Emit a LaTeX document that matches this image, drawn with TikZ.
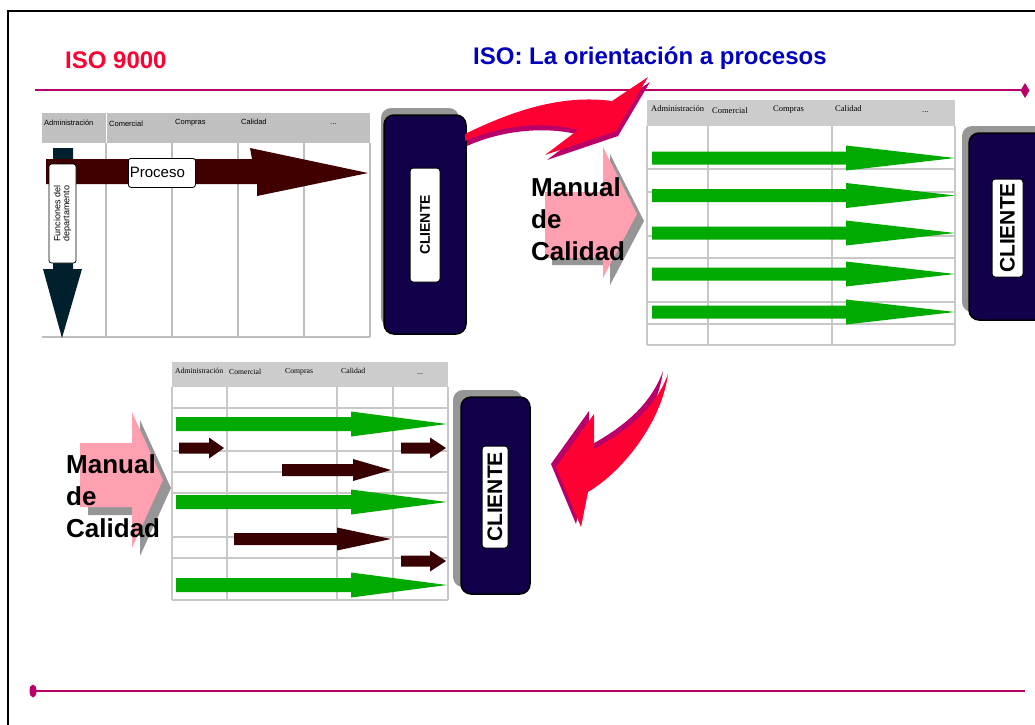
\documentclass[tikz,border=0pt]{standalone}
\usepackage{fontspec}
\setmainfont{Liberation Sans}
\newfontfamily\tms{Liberation Serif}
\definecolor{isored}{RGB}{255,0,51}
\definecolor{isoblue}{RGB}{0,0,190}
\definecolor{magline}{RGB}{185,0,105}
\definecolor{navybox}{RGB}{18,0,75}
\definecolor{maroonar}{RGB}{64,0,0}
\definecolor{darkmar}{RGB}{56,0,0}
\definecolor{vnavy}{RGB}{0,32,48}
\definecolor{garrow}{RGB}{0,170,0}
\definecolor{pinkar}{RGB}{255,160,176}
\definecolor{shadowg}{RGB}{150,150,150}
\definecolor{hdrA}{RGB}{192,192,192}
\definecolor{hdrB}{RGB}{204,204,204}
\definecolor{gridc}{RGB}{200,200,200}
% block arrow: colour, x start, x head base, x tip, y centre, shaft half height, head half height
\newcommand\blockar[7]{%
  \fill[#1] (#2,#5-#6) -- (#3,#5-#6) -- (#3,#5-#7) -- (#4,#5) -- (#3,#5+#7) -- (#3,#5+#6) -- (#2,#5+#6) -- cycle;}
\begin{document}
\begin{tikzpicture}[x=1pt,y=-1pt,
  hdrtxtA/.style={anchor=base west, inner sep=0pt, font=\fontsize{7.5}{9}\selectfont},
  hdrtxtB/.style={anchor=base west, inner sep=0pt, font=\tms\fontsize{8.5}{10}\selectfont},
  hdrtxtC/.style={anchor=base west, inner sep=0pt, font=\tms\fontsize{7.7}{9}\selectfont},
  gridline/.style={draw=gridc, line width=1.2pt},
  gridlineA/.style={draw=gridc!95!black, line width=1.5pt},
  shadowbox/.style={fill=shadowg, rounded corners=10pt},
  clibox/.style={fill=navybox, draw=black, line width=1.5pt, rounded corners=10pt},
  clilabel/.style={fill=white, draw=black, line width=1pt, rounded corners=3pt, rotate=90, inner sep=0pt},
  titletxt/.style={anchor=base west, inner sep=0pt, font=\bfseries\fontsize{24}{28}\selectfont},
  manualtxt/.style={anchor=north west, inner sep=0pt, align=left, font=\bfseries\fontsize{26}{32}\selectfont},
  whitebox/.style={fill=white, draw=black, line width=0.8pt, rounded corners=2.5pt},
  redswoosh/.style={fill=isored},
  sideswoosh/.style={fill=magline}
]
\useasboundingbox (0,0) rectangle (1035,724);
\clip (0,0) rectangle (1035,724);

% frame
\draw[line width=1.5pt] (8,730) -- (8,11) -- (1040,11);

% titles
\node[titletxt, text=isored] (t1) at (65,68) {ISO 9000};
\node[titletxt, text=isoblue] (t2) at (473,64) {ISO: La orientación a procesos};

% rules
\draw[magline, line width=2.5pt] (35,90) -- (1021,90);
\fill[magline] (1025,83) -- (1029.5,90.5) -- (1025,98) -- (1020.5,90.5) -- cycle;
\draw[magline, line width=2pt] (33,691) -- (1025,691);
\fill[magline] (33,691) ellipse [x radius=3.5pt, y radius=6.5pt];

% ---------- table 1 ----------
\fill[hdrA] (42,113) rectangle (370,143);
\draw[white, line width=0.8pt] (106,113) -- (106,143);
\foreach \x in {106,172,238,304,370} \draw[gridlineA] (\x,143) -- (\x,337);
\draw[gridlineA] (42,337) -- (370,337);
\node[hdrtxtA] (a1) at (44,125) {Administración};
\node[hdrtxtA] (a2) at (109,126) {Comercial};
\node[hdrtxtA] (a3) at (175,124) {Compras};
\node[hdrtxtA] (a4) at (241,124) {Calidad};
\node[hdrtxtA] (a5) at (330,124) {...};

\fill[vnavy] (53,148) -- (73,148) -- (73,269) -- (82,269) -- (62,338) -- (43,269) -- (53,269) -- cycle;
\fill[maroonar] (46,159) -- (252,159) -- (250,148) -- (368,173) -- (257,196) -- (257,184) -- (46,184) -- cycle;
\node[whitebox, minimum width=67pt, minimum height=29pt, text width=64pt, inner xsep=1.5pt, align=left,
      anchor=north west, font=\fontsize{15}{17}\selectfont] (proc) at (128,158) {Proceso};
\node[whitebox, rotate=90, minimum width=99pt, minimum height=27pt, inner sep=0pt, align=center,
      font=\fontsize{9}{9}\selectfont] (func) at (62.5,213.5) {Funciones del\\departamento};

% cliente 1
\fill[shadowbox] (381,108) rectangle (459,327);
\draw[clibox] (384,115) rectangle (466,334);
\node[clilabel, minimum width=114pt, minimum height=30pt, font=\bfseries\fontsize{14}{16}\selectfont] (c1) at (425,225) {CLIENTE};

% ---------- curved arrow 1 ----------
\fill[sideswoosh, shift={(2pt,-5pt)}] (465,134) .. controls (510,112) and (560,94) .. (612,101) -- (648,77) -- (616,131) -- (545,155) -- (578,130) .. controls (545,121) and (500,125) .. (465,141) -- cycle;
\fill[redswoosh] (465,134) .. controls (510,112) and (560,94) .. (612,101) -- (648,77) -- (616,131) -- (545,155) -- (578,130) .. controls (545,121) and (500,125) .. (465,141) -- cycle;

% ---------- pink arrow 1 ----------
\fill[shadowg] (552,199) -- (610,199) -- (610,154) -- (644,221) -- (610,285) -- (610,265) -- (552,265) -- cycle;
\fill[pinkar] (545,192) -- (603,192) -- (603,147) -- (637,214) -- (603,278) -- (603,258) -- (545,258) -- cycle;
\node[manualtxt] (m1) at (531,177) {Manual\\de\\Calidad};

% ---------- table 2 ----------
\fill[hdrB] (647,100) rectangle (955,126);
\foreach \x in {647,708,832,955} \draw[gridline] (\x,126) -- (\x,345);
\foreach \y in {169,192,236,258,302,324,345} \draw[gridline] (647,\y) -- (955,\y);
\node[hdrtxtB] (b1) at (651,111.5) {Administración};
\node[hdrtxtB] (b2) at (712,113) {Comercial};
\node[hdrtxtB] (b3) at (773,111) {Compras};
\node[hdrtxtB] (b4) at (835,111) {Calidad};
\node[hdrtxtB] (b5) at (922,112) {...};
\foreach \yc in {158,195.5,233,274,312} {\blockar{garrow}{652}{846}{955}{\yc}{6.5}{12.5}}

% cliente 2
\fill[shadowbox] (962,126) rectangle (1060,312);
\draw[clibox] (969,133) rectangle (1060,320);
\node[clilabel, minimum width=98pt, minimum height=31pt, font=\bfseries\fontsize{21}{24}\selectfont] (c2) at (1007.5,228) {CLIENTE};

% ---------- curved arrow 2 ----------
\fill[sideswoosh, shift={(-5pt,3pt)}] (668,374) .. controls (662,420) and (625,470) .. (588,492) -- (581,527) -- (556,467) -- (594,414) -- (594,449) .. controls (625,432) and (655,410) .. (668,374) -- cycle;
\fill[redswoosh] (668,374) .. controls (662,420) and (625,470) .. (588,492) -- (581,527) -- (556,467) -- (594,414) -- (594,449) .. controls (625,432) and (655,410) .. (668,374) -- cycle;

% ---------- table 3 ----------
\fill[hdrB] (172,362) rectangle (448,387);
\foreach \x in {172,227,337,393,448} \draw[gridline] (\x,387) -- (\x,600);
\foreach \y in {408,451,472,493,537,558,600} \draw[gridline] (172,\y) -- (448,\y);
\node[hdrtxtC] (d1) at (175,373) {Administración};
\node[hdrtxtC] (d2) at (229,374) {Comercial};
\node[hdrtxtC] (d3) at (285,373) {Compras};
\node[hdrtxtC] (d4) at (341,373) {Calidad};
\node[hdrtxtC] (d5) at (417,374) {...};
\foreach \yc in {424,502,585} {\blockar{garrow}{176}{351}{447}{\yc}{7}{12.5}}
\blockar{darkmar}{179}{209}{224}{448}{5.5}{10.5}
\blockar{darkmar}{401}{430}{446}{448}{5.5}{10.5}
\blockar{darkmar}{282}{353}{391}{470}{6}{11}
\blockar{darkmar}{234}{337}{391}{539}{6}{11.5}
\blockar{darkmar}{401}{430}{446}{561}{5.5}{10.5}

% cliente 3
\fill[shadowbox] (453,390) rectangle (522,587);
\draw[clibox] (461,397) rectangle (530,594);
\node[clilabel, minimum width=102pt, minimum height=26pt, font=\bfseries\fontsize{21}{24}\selectfont] (c3) at (495,497) {CLIENTE};

% ---------- pink arrow 2 ----------
\fill[shadowg] (88,451) -- (140,451) -- (140,420) -- (171,488) -- (140,556) -- (140,515) -- (88,515) -- cycle;
\fill[pinkar] (80,443) -- (132,443) -- (132,412) -- (163,480) -- (132,548) -- (132,507) -- (80,507) -- cycle;
\node[manualtxt] (m2) at (66,454) {Manual\\de\\Calidad};
\end{tikzpicture}
\end{document}
